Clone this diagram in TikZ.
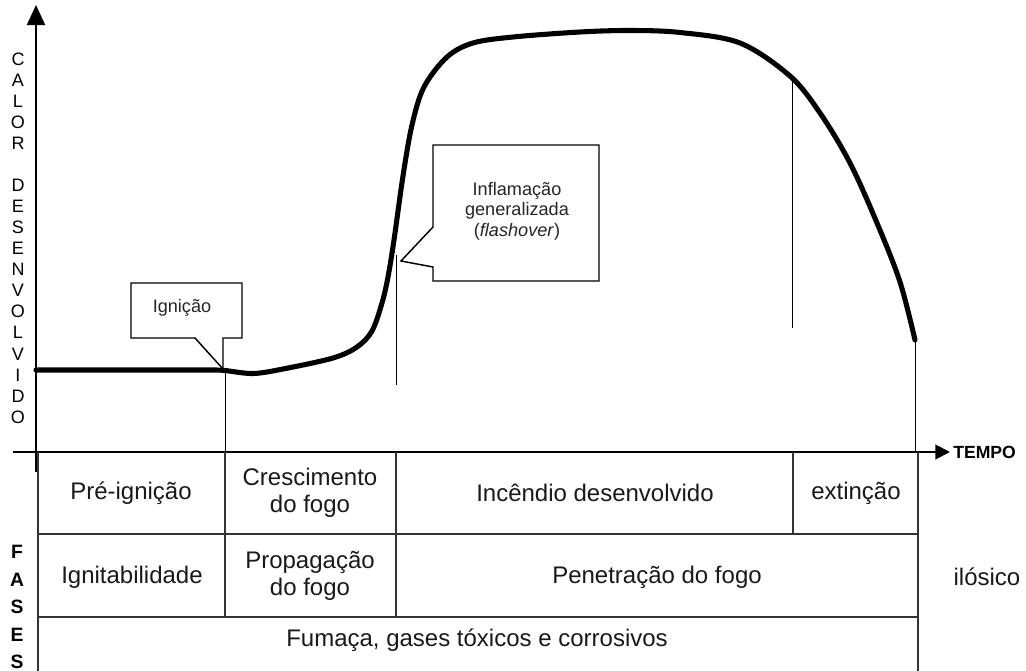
\documentclass[tikz,border=0pt]{standalone}
\usepackage{fontspec}
\setmainfont{Liberation Sans}
\usetikzlibrary{arrows.meta}
\begin{document}
\begin{tikzpicture}[x=0.75pt,y=-0.75pt,
  axisline/.style={line width=1.5pt},
  tbl/.style={draw=black!80, line width=1.1pt},
  thinline/.style={line width=0.75pt},
  curve/.style={line width=3.8pt, line cap=round, line join=round},
  callbox/.style={draw, line width=1.1pt, fill=white, line join=miter},
  cell/.style={font=\fontsize{18}{20.5}\selectfont, align=center, inner sep=0pt, text=black!90},
  calltext/.style={font=\fontsize{13.6}{15.4}\selectfont, align=center, inner sep=0pt, text=black!85},
  vletter/.style={font=\fontsize{13.5}{13.5}\selectfont, inner sep=0pt},
  fletter/.style={font=\bfseries\fontsize{14.5}{14.5}\selectfont, inner sep=0pt},
  tempo/.style={font=\bfseries\fontsize{13.2}{13.2}\selectfont, inner sep=0pt, anchor=west}]
\useasboundingbox (0,0) rectangle (1026,671);

% axes
\coordinate (yb) at (36,472);
\coordinate (yt) at (36,5);
\coordinate (xl) at (13,452);
\coordinate (xr) at (950,452);
\draw[axisline, -{Triangle[length=15pt,width=13.5pt]}] (yb) -- (yt);
\draw[axisline, -{Triangle[length=11pt,width=11pt]}] (xl) -- (xr);
\node[tempo] (tempo) at (953,452) {TEMPO};

% vertical label
\foreach \l [count=\i] in {C,A,L,O,R} {
  \node[vletter] (v\i) at (18,{59+21.06*(\i-1)}) {\l};
}
\foreach \l [count=\i] in {D,E,S,E,N,V,O,L,V,I,D,O} {
  \node[vletter] (w\i) at (18,{59+21.06*(\i+5)}) {\l};
}

% thin marker lines
\coordinate (m1t) at (225,370); \coordinate (m1b) at (225,452);
\coordinate (m2t) at (396,255); \coordinate (m2b) at (396,385);
\coordinate (m3t) at (792,80);  \coordinate (m3b) at (792,328);
\coordinate (m4t) at (915,340); \coordinate (m4b) at (915,452);
\draw[thinline] (m1t) -- (m1b);
\draw[thinline] (m2t) -- (m2b);
\draw[thinline] (m3t) -- (m3b);
\draw[thinline] (m4t) -- (m4b);

% heat curve
\draw[curve] (36,370) -- (215,370)
  plot[smooth, tension=0.55] coordinates {(215,370) (225,370.5) (253,373.5) (283,369) (333,358) (357,347)
   (372,331) (382,303) (388,277) (394,240) (403,176) (412,125) (424,87) (447,57) (473,43) (513,37)
   (580,32) (630,30.5) (680,32.5) (740,43) (790,76) (820,113) (850,163) (877,223) (900,282) (915,340)};

% callouts
\draw[callbox] (131,283) -- (242,283) -- (242,338) -- (223,338) -- (223,369) -- (195,338) -- (131,338) -- cycle;
\node[calltext] (ign) at (182,308) {Ignição};
\draw[callbox] (433,145) -- (599,145) -- (599,281) -- (433,281) -- (433,267) -- (401,261) -- (433,227) -- cycle;
\node[calltext] (flash) at (517,211) {Inflamação\\generalizada\\(\textit{flashover})};

% table
\draw[tbl] (38,452) -- (38,671);
\draw[tbl] (918,452) -- (918,671);
\draw[tbl] (38,534) -- (918,534);
\draw[tbl] (38,617) -- (918,617);
\draw[tbl] (225,452) -- (225,617);
\draw[tbl] (396,452) -- (396,617);
\draw[tbl] (793,452) -- (793,534);

\node[cell] (c11) at (131,493) {Pré-ignição};
\node[cell] (c12) at (310,493) {Crescimento\\do fogo};
\node[cell] (c13) at (595,493) {Incêndio desenvolvido};
\node[cell] (c14) at (856,493) {extinção};
\node[cell] (c21) at (132,577) {Ignitabilidade};
\node[cell] (c22) at (310,576) {Propagação\\do fogo};
\node[cell] (c23) at (657,577) {Penetração do fogo};
\node[cell] (c31) at (477,640) {Fumaça, gases tóxicos e corrosivos};
\node[cell] (side) at (987,577) {ilósico};

% FASES
\foreach \l [count=\i] in {F,A,S,E,S} {
  \node[fletter] (f\i) at (17,{552+27.5*(\i-1)}) {\l};
}
\end{tikzpicture}
\end{document}
